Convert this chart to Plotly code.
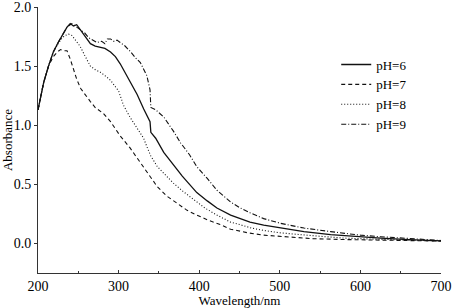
import plotly.graph_objects as go

# Wavelength (nm) / absorbance readings for each pH
wl_ph6 = [200, 207, 213, 219, 225, 232, 236, 240, 244, 248, 252, 258, 265, 271, 277, 283, 290, 296, 302, 306, 315, 323, 331, 335, 339, 340, 346, 356, 367, 379, 388, 397, 410, 422, 439, 451, 463, 480, 501, 530, 563, 600, 625, 660, 700]
ab_ph6 = [1.13, 1.36, 1.50, 1.62, 1.70, 1.79, 1.83, 1.86, 1.84, 1.85, 1.81, 1.76, 1.69, 1.67, 1.66, 1.65, 1.62, 1.58, 1.52, 1.47, 1.37, 1.26, 1.14, 1.08, 1.03, 0.94, 0.89, 0.77, 0.67, 0.57, 0.50, 0.43, 0.36, 0.30, 0.24, 0.21, 0.18, 0.155, 0.13, 0.10, 0.075, 0.055, 0.045, 0.033, 0.022]

wl_ph7 = [200, 207, 213, 219, 224, 228, 232, 236, 240, 244, 248, 253, 259, 265, 271, 281, 290, 296, 302, 314, 322, 331, 340, 348, 360, 372, 385, 397, 410, 426, 439, 447, 460, 480, 500, 542, 580, 625, 660, 700]
ab_ph7 = [1.13, 1.36, 1.50, 1.58, 1.62, 1.64, 1.63, 1.63, 1.56, 1.47, 1.39, 1.31, 1.25, 1.20, 1.15, 1.10, 1.03, 0.97, 0.91, 0.81, 0.73, 0.65, 0.56, 0.48, 0.40, 0.34, 0.28, 0.24, 0.20, 0.16, 0.12, 0.11, 0.09, 0.07, 0.06, 0.04, 0.033, 0.028, 0.024, 0.02]

wl_ph8 = [200, 207, 213, 219, 225, 230, 234, 238, 242, 246, 252, 258, 265, 271, 277, 283, 290, 300, 306, 314, 323, 331, 335, 340, 348, 358, 368, 380, 393, 407, 422, 439, 450, 465, 480, 500, 542, 580, 625, 660, 700]
ab_ph8 = [1.13, 1.36, 1.50, 1.62, 1.69, 1.74, 1.76, 1.77, 1.76, 1.72, 1.67, 1.59, 1.50, 1.47, 1.45, 1.42, 1.38, 1.29, 1.17, 1.07, 0.97, 0.89, 0.82, 0.74, 0.65, 0.58, 0.51, 0.44, 0.37, 0.30, 0.24, 0.18, 0.16, 0.13, 0.11, 0.09, 0.065, 0.045, 0.035, 0.027, 0.02]

wl_ph9 = [200, 207, 213, 219, 225, 232, 236, 240, 242, 246, 252, 258, 263, 268, 273, 279, 283, 286, 290, 294, 298, 302, 308, 315, 321, 327, 335, 339, 340, 346, 356, 368, 377, 388, 397, 410, 422, 439, 451, 463, 480, 501, 530, 563, 600, 625, 660, 700]
ab_ph9 = [1.13, 1.36, 1.50, 1.62, 1.70, 1.79, 1.83, 1.85, 1.86, 1.84, 1.81, 1.78, 1.74, 1.72, 1.70, 1.71, 1.69, 1.73, 1.73, 1.71, 1.72, 1.70, 1.67, 1.62, 1.57, 1.53, 1.42, 1.30, 1.15, 1.13, 1.07, 0.95, 0.85, 0.75, 0.65, 0.55, 0.45, 0.35, 0.30, 0.26, 0.21, 0.17, 0.13, 0.10, 0.07, 0.057, 0.04, 0.025]

series = [
    ("pH=6", wl_ph6, ab_ph6, "solid", 1.3),
    ("pH=7", wl_ph7, ab_ph7, "4px,3px", 1.1),
    ("pH=8", wl_ph8, ab_ph8, "1px,2px", 1.1),
    ("pH=9", wl_ph9, ab_ph9, "5px,2px,1px,2px", 1.1),
]

x_ticks = [200, 300, 400, 500, 600, 700]
y_ticks = [0.0, 0.5, 1.0, 1.5, 2.0]

font_family = "Liberation Serif"

fig = go.Figure()
for name, x, y, dash, w in series:
    fig.add_trace(go.Scatter(x=x, y=y, mode="lines", name=name,
                             line=dict(color="#111111", width=w, dash=dash)))

fig.update_layout(
    width=453, height=308,
    margin=dict(l=38, r=12, t=7, b=35, autoexpand=False),
    paper_bgcolor="white", plot_bgcolor="white",
    font=dict(family=font_family, size=14, color="#000000"),
    showlegend=True,
    legend=dict(x=0.74, y=0.84, xanchor="left", yanchor="top",
                bgcolor="rgba(0,0,0,0)", font=dict(size=13),
                itemwidth=30, tracegroupgap=0),
)
fig.update_xaxes(
    range=[200, 700], tickvals=x_ticks, ticktext=[str(v) for v in x_ticks],
    showline=True, linecolor="#333333", linewidth=1, mirror=False,
    ticks="inside", ticklen=3, tickcolor="#333333",
    minor=dict(dtick=50, ticks="inside", ticklen=2, tickcolor="#333333"),
    showgrid=False, zeroline=False, automargin=False, ticklabeloverflow="allow",
    title=dict(text="Wavelength/nm", font=dict(size=13)),
)
fig.update_yaxes(
    range=[-0.25, 2.0001], tickvals=y_ticks, ticktext=["%.1f" % v for v in y_ticks],
    showline=True, linecolor="#333333", linewidth=1, mirror=False,
    ticks="outside", ticklen=3, tickcolor="#333333",
    showgrid=False, zeroline=False, automargin=False, ticklabeloverflow="allow",
    title=dict(text="Absorbance", font=dict(size=13)),
)

fig.write_html("out.html", config={"displayModeBar": False},
               post_script="document.body.style.margin='0';")
